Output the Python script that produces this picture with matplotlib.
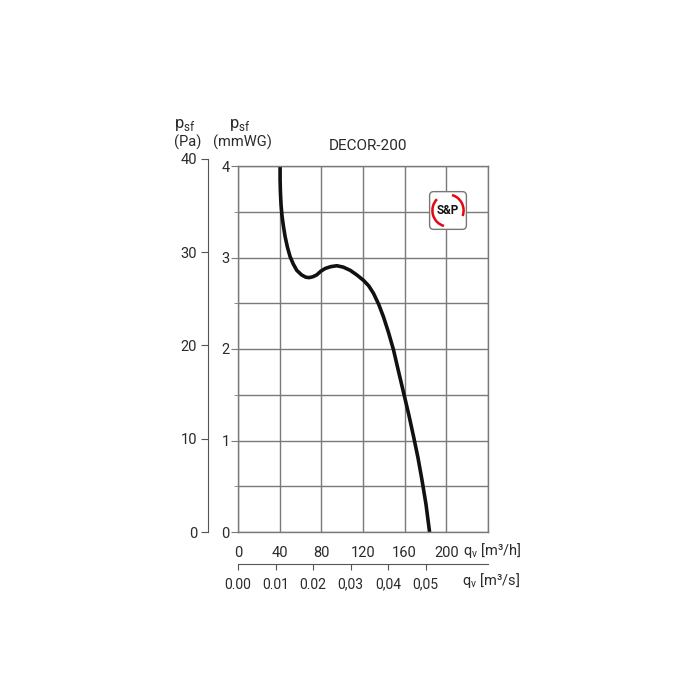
import matplotlib
matplotlib.use("Agg")
import matplotlib.pyplot as plt
from matplotlib.patches import FancyBboxPatch, Arc

plt.rcParams['font.family'] = ['Roboto', 'DejaVu Sans']

# fan curve DECOR-200
flow_m3h = [40.4, 40.4, 40.7, 41.3, 42.2, 43.5, 45.2, 47.5, 50.0, 53.0, 56.4, 61.0, 65.0, 68.3,
            72.0, 75.6, 79.5, 83.7, 89.0, 94.9, 101.0, 107.7, 114.0, 120.5, 125.5, 130.0,
            135.0, 139.7, 144.5, 149.3, 154.0, 159.0, 164.0, 168.6, 172.8, 176.6, 180.5, 183.9]
press_mmwg = [4.01, 3.85, 3.72, 3.58, 3.46, 3.35, 3.23, 3.11, 3.01, 2.93, 2.86, 2.81, 2.785, 2.78,
              2.79, 2.81, 2.85, 2.88, 2.90, 2.91, 2.895, 2.86, 2.81, 2.75, 2.69, 2.61,
              2.49, 2.35, 2.18, 1.99, 1.76, 1.52, 1.28, 1.04, 0.81, 0.57, 0.30, 0.0]

x_ticks = [0, 40, 80, 120, 160, 200, 240]
x_labels = ['0', '40', '80', '120', '160', '200', '']
y_ticks = [0, 1, 2, 3, 4]
pa_ticks = [0, 10, 20, 30, 40]
m3s_ticks = [0.0, 0.01, 0.02, 0.03, 0.04, 0.05]
m3s_labels = ['0.00', '0.01', '0.02', '0,03', '0,04', '0,05']

PA_PER_MMWG = 9.80665
GRID = '#7a7a7a'
TXT = '#2a2a2a'

fig = plt.figure(figsize=(7, 7), dpi=100)
L, B, W, H = 238 / 700, 1 - 532 / 700, 250 / 700, 366 / 700
ax = fig.add_axes([L, B, W, H])
ax.set_xlim(0, 240)
ax.set_ylim(0, 4)

ax.set_xticks(x_ticks)
ax.set_xticklabels(x_labels)
ax.set_yticks(y_ticks)
ax.set_yticks([0.5, 1.5, 2.5, 3.5], minor=True)
ax.grid(True, which='both', color=GRID, lw=1)
ax.set_axisbelow(True)
for s in ax.spines.values():
    s.set_color(GRID)
    s.set_linewidth(1)
ax.tick_params(axis='x', length=0, pad=10, labelsize=10.5, labelcolor=TXT)
ax.tick_params(axis='y', which='major', length=5, color=GRID, pad=1,
               labelsize=10.5, labelcolor=TXT)
ax.tick_params(axis='y', which='minor', length=3, color=GRID)

ax.plot(flow_m3h, press_mmwg, color='#111111', lw=2.6, solid_joinstyle='round',
        solid_capstyle='butt')

# Pa scale on the left, same scale as mmWG
pa_h = H * (40 / PA_PER_MMWG) / 4
pax = fig.add_axes([208 / 700, B, 0.001, pa_h])
pax.set_ylim(0, 40)
pax.set_xticks([])
pax.set_yticks(pa_ticks)
for k in ['top', 'right', 'bottom']:
    pax.spines[k].set_visible(False)
pax.spines['left'].set_color('#555555')
pax.patch.set_visible(False)
pax.tick_params(axis='y', length=5, color='#555555', pad=3, labelsize=10.5, labelcolor=TXT)

# m3/s scale below
sec = ax.secondary_xaxis(-0.087, functions=(lambda q: q / 3600, lambda q: q * 3600))
sec.set_xticks(m3s_ticks)
sec.set_xticklabels(m3s_labels)
sec.spines['bottom'].set_color('#555555')
sec.tick_params(length=4, color='#555555', pad=6, labelsize=10, labelcolor=TXT)

# texts
fig.text(368 / 700, 1 - 146 / 700, 'DECOR-200', ha='center', va='center', fontsize=11, color=TXT)
fig.text(185 / 700, 1 - 125 / 700, r'p$_{\mathregular{sf}}$', ha='center', va='center',
         fontsize=12, color=TXT)
fig.text(188 / 700, 1 - 142 / 700, '(Pa)', ha='center', va='center', fontsize=10.5, color=TXT)
fig.text(240 / 700, 1 - 125 / 700, r'p$_{\mathregular{sf}}$', ha='center', va='center',
         fontsize=12, color=TXT)
fig.text(242 / 700, 1 - 142 / 700, '(mmWG)', ha='center', va='center', fontsize=10.5, color=TXT)
fig.text(463 / 700, 1 - 551 / 700, r'q$_{\mathregular{v}}$ [m³/h]', ha='left', va='center',
         fontsize=10.5, color=TXT)
fig.text(462 / 700, 1 - 581 / 700, r'q$_{\mathregular{v}}$ [m³/s]', ha='left', va='center',
         fontsize=10.5, color=TXT)

# S&P logo
lax = fig.add_axes([428 / 700, 1 - 231 / 700, 40 / 700, 41 / 700])
lax.set_xlim(0, 1)
lax.set_ylim(0, 1)
lax.axis('off')
lax.add_patch(FancyBboxPatch((0.04, 0.04), 0.92, 0.92, boxstyle='round,pad=0,rounding_size=0.1',
                             fc='white', ec='#777777', lw=1))
lax.add_patch(Arc((0.5, 0.5), 0.78, 0.78, theta1=135, theta2=255, color='#e30613', lw=1.8))
lax.add_patch(Arc((0.5, 0.5), 0.78, 0.78, theta1=-20, theta2=75, color='#e30613', lw=1.8))
lax.text(0.5, 0.5, 'S&P', ha='center', va='center', fontsize=8.5, fontweight='bold',
         color='#111111')

fig.savefig('out.png', dpi=100, facecolor='white')
